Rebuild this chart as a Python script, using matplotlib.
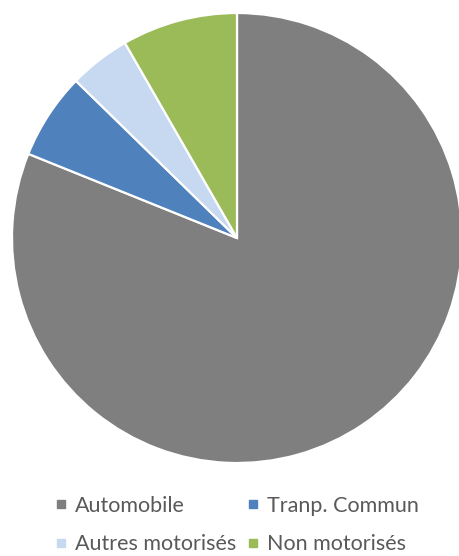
import matplotlib.pyplot as plt
from matplotlib.lines import Line2D

labels = ['Automobile', 'Tranp. Commun', 'Autres motorisés', 'Non motorisés']
shares = [81.1, 6.2, 4.4, 8.3]
colors = ['#7f7f7f', '#4f81bd', '#c6d9f1', '#9bbb59']

fig = plt.figure(figsize=(4.59, 5.56), dpi=100)
ax = fig.add_axes([12/459, (556-463)/556, 450/459, 450/556])
ax.pie(shares, colors=colors, startangle=90, counterclock=False, radius=1,
       wedgeprops={'edgecolor': 'white', 'linewidth': 1.6})
ax.set_xlim(-1, 1)
ax.set_ylim(-1, 1)
ax.set_aspect('equal')
ax.axis('off')

# legend fills column-wise, so reorder to get rows Auto/Tranp, Autres/Non
order = [0, 2, 1, 3]
handles = [Line2D([], [], marker='s', linestyle='none', markersize=6,
                  markerfacecolor=colors[i], markeredgecolor=colors[i]) for i in order]
fig.legend(handles, [labels[i] for i in order], ncol=2, frameon=False,
           loc='center', bbox_to_anchor=(237/459, 1 - 525/556),
           prop={'family': 'Lato', 'size': 15.5}, labelcolor='#595959',
           handlelength=0.5, handletextpad=0.4, columnspacing=0.55,
           labelspacing=0.85)

fig.savefig('out.png', dpi=100)
